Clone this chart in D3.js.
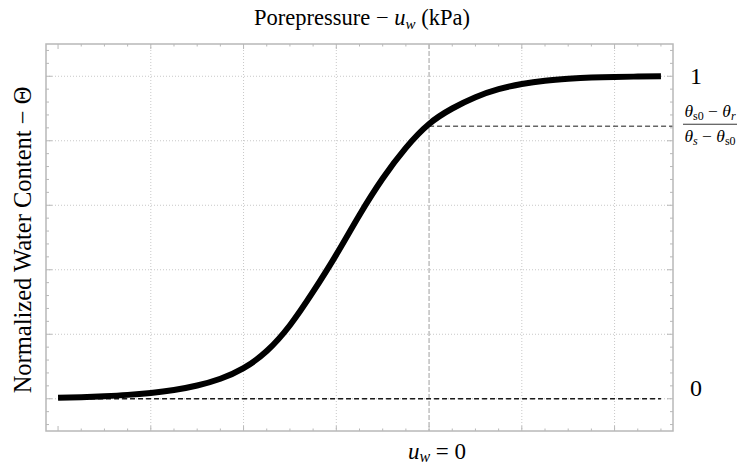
<!DOCTYPE html>
<html>
<head>
<meta charset="utf-8">
<script src="https://cdn.jsdelivr.net/npm/d3@7"></script>
<style>
  body { margin: 0; background: #fff; }
  text { font-family: "Liberation Serif", "DejaVu Serif", "Times New Roman", serif; }
</style>
</head>
<body>
<svg width="738" height="466"></svg>
<script>
// curve samples: porepressure (grid units) vs normalized water content
var uw = [-4, -3.75, -3.5, -3.25, -3, -2.75, -2.5, -2.25, -2, -1.75, -1.5, -1.25, -1, -0.75, -0.5, -0.25, 0, 0.25, 0.5, 0.75, 1, 1.25, 1.5, 1.75, 2, 2.25, 2.5];
var theta = [0.003, 0.005, 0.008, 0.012, 0.018, 0.027, 0.041, 0.062, 0.095, 0.148, 0.228, 0.332, 0.447, 0.570, 0.683, 0.778, 0.852, 0.900, 0.935, 0.960, 0.976, 0.986, 0.992, 0.996, 0.998, 0.999, 1.0];

var xGrid = [-3, -2, -1, 1, 2];
var yGrid = [0, 0.2, 0.4, 0.6, 0.8, 1];
var thetaS0 = 0.845;

var svg = d3.select("svg"),
	margin = {top: 44, right: 65, bottom: 35, left: 46},
	width = +svg.attr("width") - margin.left - margin.right,
	height = +svg.attr("height") - margin.top - margin.bottom;

var x = d3.scaleLinear().domain([-4.13, 2.63]).range([margin.left, margin.left + width]),
	y = d3.scaleLinear().domain([-0.1, 1.1]).range([margin.top + height, margin.top]);

var data = uw.map(function(d, i) { return {u: d, t: theta[i]}; });

var frameColor = "#b8b8b8";

// grid
svg.append("g").selectAll("line")
	.data(xGrid)
	.enter().append("line")
	.attr("x1", function(d) { return x(d); })
	.attr("x2", function(d) { return x(d); })
	.attr("y1", margin.top).attr("y2", margin.top + height)
	.attr("stroke", "#c8c8c8").attr("stroke-width", 1)
	.attr("stroke-dasharray", "1,2");

svg.append("g").selectAll("line")
	.data(yGrid)
	.enter().append("line")
	.attr("y1", function(d) { return y(d); })
	.attr("y2", function(d) { return y(d); })
	.attr("x1", margin.left).attr("x2", margin.left + width)
	.attr("stroke", "#c8c8c8").attr("stroke-width", 1)
	.attr("stroke-dasharray", "1,2");

// u_w = 0 line
svg.append("line")
	.attr("x1", x(0)).attr("x2", x(0))
	.attr("y1", margin.top).attr("y2", margin.top + height)
	.attr("stroke", "#b0b0b0").attr("stroke-width", 1.2)
	.attr("stroke-dasharray", "5,2");

// frame ticks
var xTicks = d3.range(-4, 2.51, 0.25),
	yTicks = d3.range(-0.08, 1.0801, 0.04);

function isMajorX(d) { return Math.abs(d - Math.round(d)) < 1e-6; }
function isMajorY(d) { return Math.abs(d * 5 - Math.round(d * 5)) < 1e-6 && d > -0.01 && d < 1.01; }

var ticks = svg.append("g").attr("stroke", frameColor).attr("stroke-width", 1);

xTicks.forEach(function(d) {
	var len = isMajorX(d) ? 5 : 2.5;
	ticks.append("line").attr("x1", x(d)).attr("x2", x(d))
		.attr("y1", margin.top + height).attr("y2", margin.top + height - len);
	ticks.append("line").attr("x1", x(d)).attr("x2", x(d))
		.attr("y1", margin.top).attr("y2", margin.top + len);
});
yTicks.forEach(function(d) {
	var len = isMajorY(d) ? 6 : 3;
	ticks.append("line").attr("y1", y(d)).attr("y2", y(d))
		.attr("x1", margin.left).attr("x2", margin.left + len);
	ticks.append("line").attr("y1", y(d)).attr("y2", y(d))
		.attr("x1", margin.left + width).attr("x2", margin.left + width - len);
});

// dashed reference lines
svg.append("line")
	.attr("x1", x(-4)).attr("x2", x(2.5))
	.attr("y1", y(0)).attr("y2", y(0))
	.attr("stroke", "#1a1a1a").attr("stroke-width", 1.6)
	.attr("stroke-dasharray", "5,3");

svg.append("line")
	.attr("x1", x(0)).attr("x2", margin.left + width)
	.attr("y1", y(thetaS0)).attr("y2", y(thetaS0))
	.attr("stroke", "#666").attr("stroke-width", 1.4)
	.attr("stroke-dasharray", "5,3");

// curve
var line = d3.line()
	.x(function(d) { return x(d.u); })
	.y(function(d) { return y(d.t); })
	.curve(d3.curveNatural);

svg.append("path")
	.datum(data)
	.attr("fill", "none")
	.attr("stroke", "#000")
	.attr("stroke-width", 6)
	.attr("d", line);

// frame
svg.append("rect")
	.attr("x", margin.left).attr("y", margin.top)
	.attr("width", width).attr("height", height)
	.attr("fill", "none").attr("stroke", frameColor).attr("stroke-width", 1.5);

// labels
var title = svg.append("text")
	.attr("x", 362).attr("y", 25)
	.attr("text-anchor", "middle")
	.attr("font-size", 22.5);
title.append("tspan").text("Porepressure \u2212 ");
title.append("tspan").attr("font-style", "italic").text("u");
title.append("tspan").attr("font-style", "italic").attr("font-size", 15).attr("dy", 4).text("w");
title.append("tspan").attr("dy", -4).text(" (kPa)");

var bottom = svg.append("text")
	.attr("x", 437).attr("y", 459)
	.attr("text-anchor", "middle")
	.attr("font-size", 23);
bottom.append("tspan").attr("font-style", "italic").text("u");
bottom.append("tspan").attr("font-style", "italic").attr("font-size", 16).attr("dy", 3).text("w");
bottom.append("tspan").attr("dy", -3).text(" = 0");

svg.append("text")
	.attr("transform", "translate(31,240) rotate(-90)")
	.attr("text-anchor", "middle")
	.attr("font-size", 24.5)
	.text("Normalized Water Content \u2212 \u0398");

svg.append("text").attr("x", 696).attr("y", y(1) + 8)
	.attr("text-anchor", "middle").attr("font-size", 24).text("1");
svg.append("text").attr("x", 696).attr("y", y(0) - 3)
	.attr("text-anchor", "middle").attr("font-size", 24).text("0");

// fraction label
var fx = 710, fy = y(thetaS0) - 2;
var num = svg.append("text").attr("x", fx).attr("y", fy - 7)
	.attr("text-anchor", "middle").attr("font-size", 17.5);
num.append("tspan").attr("font-style", "italic").text("\u03b8");
num.append("tspan").attr("font-size", 12).attr("dy", 3).text("s0");
num.append("tspan").attr("dy", -3).text(" \u2212 ");
num.append("tspan").attr("font-style", "italic").text("\u03b8");
num.append("tspan").attr("font-style", "italic").attr("font-size", 12).attr("dy", 3).text("r");

svg.append("line").attr("x1", 683).attr("x2", 737)
	.attr("y1", fy).attr("y2", fy)
	.attr("stroke", "#000").attr("stroke-width", 0.8);

var den = svg.append("text").attr("x", fx).attr("y", fy + 18)
	.attr("text-anchor", "middle").attr("font-size", 17.5);
den.append("tspan").attr("font-style", "italic").text("\u03b8");
den.append("tspan").attr("font-style", "italic").attr("font-size", 12).attr("dy", 3).text("s");
den.append("tspan").attr("dy", -3).text(" \u2212 ");
den.append("tspan").attr("font-style", "italic").text("\u03b8");
den.append("tspan").attr("font-size", 12).attr("dy", 3).text("s0");
</script>
</body>
</html>
